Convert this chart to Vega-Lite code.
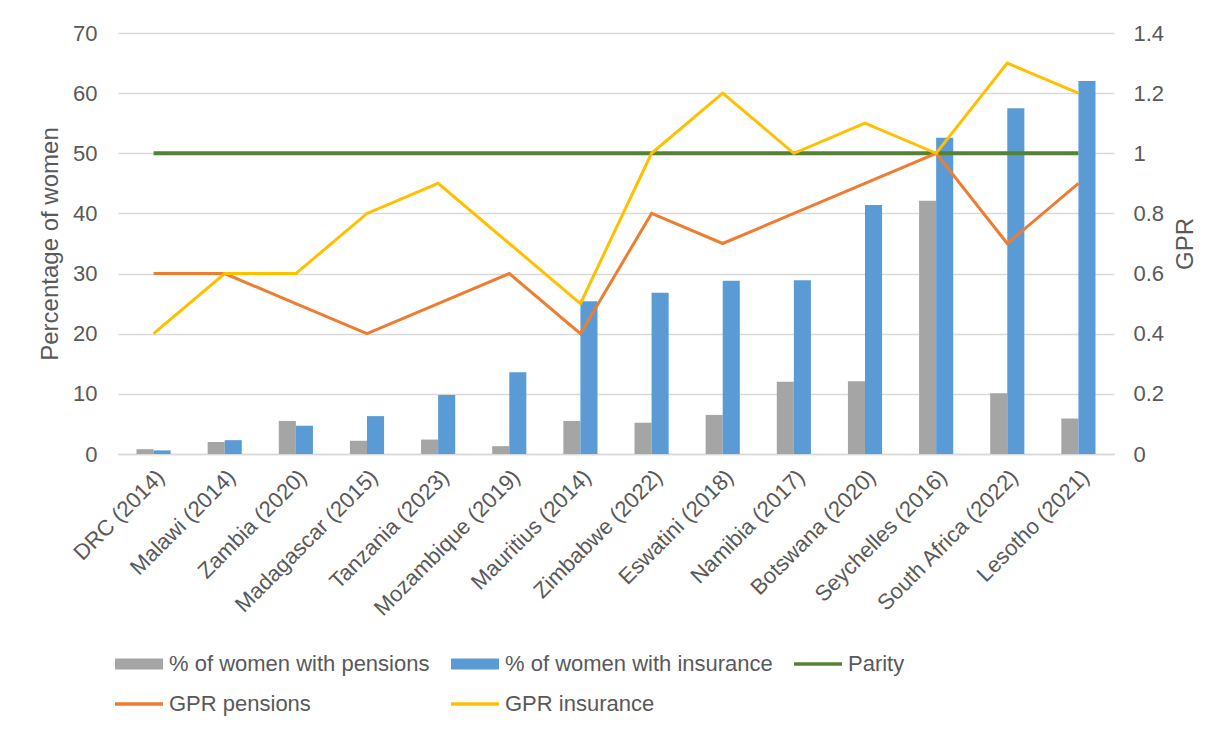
{
  "$schema": "https://vega.github.io/schema/vega-lite/v6.json",
  "autosize": {"type": "none"},
  "width": 996,
  "height": 421,
  "padding": {"left": 118, "top": 33, "right": 118, "bottom": 277},
  "background": "white",
  "config": {
    "font": "Liberation Sans",
    "view": {"stroke": null},
    "axis": {"labelColor": "#595959", "titleColor": "#595959", "labelFont": "Liberation Sans", "titleFont": "Liberation Sans"},
    "legend": {"padding": 0}
  },
  "datasets": {
    "bars": [
      {"country": "DRC (2014)", "series": "% of women with pensions", "value": 0.8},
      {"country": "DRC (2014)", "series": "% of women with insurance", "value": 0.6},
      {"country": "Malawi (2014)", "series": "% of women with pensions", "value": 2.0},
      {"country": "Malawi (2014)", "series": "% of women with insurance", "value": 2.3},
      {"country": "Zambia (2020)", "series": "% of women with pensions", "value": 5.5},
      {"country": "Zambia (2020)", "series": "% of women with insurance", "value": 4.7},
      {"country": "Madagascar (2015)", "series": "% of women with pensions", "value": 2.2},
      {"country": "Madagascar (2015)", "series": "% of women with insurance", "value": 6.3},
      {"country": "Tanzania (2023)", "series": "% of women with pensions", "value": 2.4},
      {"country": "Tanzania (2023)", "series": "% of women with insurance", "value": 9.8},
      {"country": "Mozambique (2019)", "series": "% of women with pensions", "value": 1.3},
      {"country": "Mozambique (2019)", "series": "% of women with insurance", "value": 13.6},
      {"country": "Mauritius (2014)", "series": "% of women with pensions", "value": 5.5},
      {"country": "Mauritius (2014)", "series": "% of women with insurance", "value": 25.4},
      {"country": "Zimbabwe (2022)", "series": "% of women with pensions", "value": 5.2},
      {"country": "Zimbabwe (2022)", "series": "% of women with insurance", "value": 26.8},
      {"country": "Eswatini (2018)", "series": "% of women with pensions", "value": 6.5},
      {"country": "Eswatini (2018)", "series": "% of women with insurance", "value": 28.8},
      {"country": "Namibia (2017)", "series": "% of women with pensions", "value": 12.0},
      {"country": "Namibia (2017)", "series": "% of women with insurance", "value": 28.9},
      {"country": "Botswana (2020)", "series": "% of women with pensions", "value": 12.1},
      {"country": "Botswana (2020)", "series": "% of women with insurance", "value": 41.4},
      {"country": "Seychelles (2016)", "series": "% of women with pensions", "value": 42.1},
      {"country": "Seychelles (2016)", "series": "% of women with insurance", "value": 52.6},
      {"country": "South Africa (2022)", "series": "% of women with pensions", "value": 10.1},
      {"country": "South Africa (2022)", "series": "% of women with insurance", "value": 57.5},
      {"country": "Lesotho (2021)", "series": "% of women with pensions", "value": 5.9},
      {"country": "Lesotho (2021)", "series": "% of women with insurance", "value": 62.0}
    ],
    "lines": [
      {"country": "DRC (2014)", "series": "Parity", "gpr": 1},
      {"country": "Malawi (2014)", "series": "Parity", "gpr": 1},
      {"country": "Zambia (2020)", "series": "Parity", "gpr": 1},
      {"country": "Madagascar (2015)", "series": "Parity", "gpr": 1},
      {"country": "Tanzania (2023)", "series": "Parity", "gpr": 1},
      {"country": "Mozambique (2019)", "series": "Parity", "gpr": 1},
      {"country": "Mauritius (2014)", "series": "Parity", "gpr": 1},
      {"country": "Zimbabwe (2022)", "series": "Parity", "gpr": 1},
      {"country": "Eswatini (2018)", "series": "Parity", "gpr": 1},
      {"country": "Namibia (2017)", "series": "Parity", "gpr": 1},
      {"country": "Botswana (2020)", "series": "Parity", "gpr": 1},
      {"country": "Seychelles (2016)", "series": "Parity", "gpr": 1},
      {"country": "South Africa (2022)", "series": "Parity", "gpr": 1},
      {"country": "Lesotho (2021)", "series": "Parity", "gpr": 1},
      {"country": "DRC (2014)", "series": "GPR pensions", "gpr": 0.6},
      {"country": "Malawi (2014)", "series": "GPR pensions", "gpr": 0.6},
      {"country": "Zambia (2020)", "series": "GPR pensions", "gpr": 0.5},
      {"country": "Madagascar (2015)", "series": "GPR pensions", "gpr": 0.4},
      {"country": "Tanzania (2023)", "series": "GPR pensions", "gpr": 0.5},
      {"country": "Mozambique (2019)", "series": "GPR pensions", "gpr": 0.6},
      {"country": "Mauritius (2014)", "series": "GPR pensions", "gpr": 0.4},
      {"country": "Zimbabwe (2022)", "series": "GPR pensions", "gpr": 0.8},
      {"country": "Eswatini (2018)", "series": "GPR pensions", "gpr": 0.7},
      {"country": "Namibia (2017)", "series": "GPR pensions", "gpr": 0.8},
      {"country": "Botswana (2020)", "series": "GPR pensions", "gpr": 0.9},
      {"country": "Seychelles (2016)", "series": "GPR pensions", "gpr": 1.0},
      {"country": "South Africa (2022)", "series": "GPR pensions", "gpr": 0.7},
      {"country": "Lesotho (2021)", "series": "GPR pensions", "gpr": 0.9},
      {"country": "DRC (2014)", "series": "GPR insurance", "gpr": 0.4},
      {"country": "Malawi (2014)", "series": "GPR insurance", "gpr": 0.6},
      {"country": "Zambia (2020)", "series": "GPR insurance", "gpr": 0.6},
      {"country": "Madagascar (2015)", "series": "GPR insurance", "gpr": 0.8},
      {"country": "Tanzania (2023)", "series": "GPR insurance", "gpr": 0.9},
      {"country": "Mozambique (2019)", "series": "GPR insurance", "gpr": 0.7},
      {"country": "Mauritius (2014)", "series": "GPR insurance", "gpr": 0.5},
      {"country": "Zimbabwe (2022)", "series": "GPR insurance", "gpr": 1.0},
      {"country": "Eswatini (2018)", "series": "GPR insurance", "gpr": 1.2},
      {"country": "Namibia (2017)", "series": "GPR insurance", "gpr": 1.0},
      {"country": "Botswana (2020)", "series": "GPR insurance", "gpr": 1.1},
      {"country": "Seychelles (2016)", "series": "GPR insurance", "gpr": 1.0},
      {"country": "South Africa (2022)", "series": "GPR insurance", "gpr": 1.3},
      {"country": "Lesotho (2021)", "series": "GPR insurance", "gpr": 1.2}
    ]
  },
  "encoding": {
    "x": {
      "field": "country", "type": "nominal", "sort": null,
      "scale": {"paddingInner": 0.52, "paddingOuter": 0.26},
      "axis": {"title": null, "labelAngle": -45, "labelFontSize": 22, "labelColor": "#595959", "ticks": false, "domainColor": "#d9d9d9", "domainWidth": 1.5, "labelPadding": 12, "grid": false, "labelLimit": 0}
    },
    "color": {
      "field": "series", "type": "nominal",
      "scale": {
        "domain": ["% of women with pensions", "% of women with insurance", "Parity", "GPR pensions", "GPR insurance"],
        "range": ["#A5A5A5", "#5B9BD5", "#548235", "#ED7D31", "#FFC000"]
      },
      "legend": {
        "title": null, "orient": "none", "legendX": -3, "legendY": 620, "direction": "horizontal", "columns": 3,
        "labelFontSize": 22, "labelColor": "#595959", "labelFont": "Liberation Sans", "labelLimit": 0,
        "symbolSize": 2304, "columnPadding": 14, "rowPadding": 18, "labelOffset": 6,
        "encode": {
          "symbols": {
            "update": {
              "x": {"value": 24},
              "shape": {"signal": "indexof(['% of women with pensions','% of women with insurance'], datum.value) >= 0 ? 'M-1,-0.23H1V0.23H-1Z' : 'M-1,0H1'"},
              "fill": {"scale": "color", "field": "value"},
              "stroke": {"scale": "color", "field": "value"},
              "strokeWidth": {"signal": "indexof(['% of women with pensions','% of women with insurance'], datum.value) >= 0 ? 0 : 3.5"},
              "opacity": {"value": 1}
            }
          },
          "labels": {
            "update": {"x": {"value": 54}}
          }
        }
      }
    }
  },
  "layer": [
    {
      "data": {"name": "bars"},
      "mark": {"type": "bar"},
      "encoding": {
        "xOffset": {"field": "series", "type": "nominal", "sort": ["% of women with pensions", "% of women with insurance"], "scale": {"paddingInner": 0}},
        "y": {
          "field": "value", "type": "quantitative",
          "scale": {"domain": [0, 70]},
          "axis": {"title": "Percentage of women", "titleFontSize": 24, "titleFontWeight": "normal", "titlePadding": 10, "labelFontSize": 22, "values": [0, 10, 20, 30, 40, 50, 60, 70], "ticks": false, "domain": false, "labelPadding": 21, "gridColor": "#d9d9d9", "gridWidth": 1.5}
        }
      }
    },
    {
      "data": {"name": "lines"},
      "layer": [
        {"transform": [{"filter": "datum.series === 'Parity'"}], "mark": {"type": "line", "strokeWidth": 4}, "encoding": {"y": {"field": "gpr", "type": "quantitative"}}},
        {"transform": [{"filter": "datum.series === 'GPR pensions'"}], "mark": {"type": "line", "strokeWidth": 3}, "encoding": {"y": {"field": "gpr", "type": "quantitative"}}},
        {"transform": [{"filter": "datum.series === 'GPR insurance'"}], "mark": {"type": "line", "strokeWidth": 3}, "encoding": {"y": {"field": "gpr", "type": "quantitative"}}}
      ],
      "encoding": {
        "y": {
          "field": "gpr", "type": "quantitative",
          "scale": {"domain": [0, 1.4]},
          "axis": {"orient": "right", "title": "GPR", "titleFontSize": 24, "titleFontWeight": "normal", "titleAngle": 270, "titlePadding": 34, "labelFontSize": 22, "format": ".1~f", "values": [0, 0.2, 0.4, 0.6, 0.8, 1, 1.2, 1.4], "ticks": false, "domain": false, "grid": false, "labelPadding": 19}
        }
      }
    }
  ],
  "resolve": {"scale": {"y": "independent"}}
}
